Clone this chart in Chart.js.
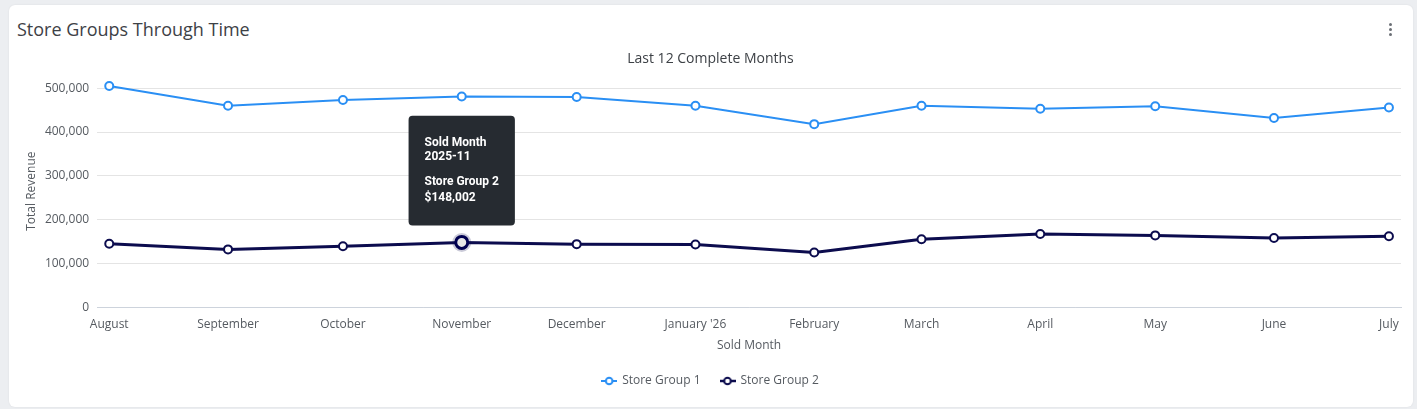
<!DOCTYPE html>
<html>
<head>
<meta charset="utf-8">
<script src="https://cdn.jsdelivr.net/npm/chart.js@4.4.1/dist/chart.umd.min.js"></script>
<style>
  html, body { margin: 0; padding: 0; }
  body {
    width: 1417px;
    height: 409px;
    background: #eceef1;
    font-family: "Open Sans", sans-serif;
    overflow: hidden;
  }
  .card {
    position: absolute;
    left: 9px;
    top: 5px;
    width: 1404px;
    height: 402px;
    background: #ffffff;
    border-radius: 6px;
    box-shadow: 0 0 2px rgba(0, 0, 0, 0.08);
  }
  .card-title {
    position: absolute;
    left: 8px;
    top: 12px;
    font-size: 18px;
    color: #3d4146;
  }
  .kebab {
    position: absolute;
    right: 21px;
    top: 18px;
    width: 3px;
  }
  .kebab span {
    display: block;
    width: 3px;
    height: 3px;
    margin-bottom: 2px;
    border-radius: 50%;
    background: #6b6f75;
  }
  .chart-box {
    position: absolute;
    left: 8px;
    top: 40px;
    width: 1392px;
    height: 352px;
  }
</style>
</head>
<body>
<div class="card">
  <div class="card-title">Store Groups Through Time</div>
  <div class="kebab"><span></span><span></span><span></span></div>
  <div class="chart-box"><canvas id="storeGroupsChart"></canvas></div>
</div>
<script>
const monthLabels = ["August", "September", "October", "November", "December", "January '26",
  "February", "March", "April", "May", "June", "July"];
const monthKeys = ["2025-08", "2025-09", "2025-10", "2025-11", "2025-12", "2026-01",
  "2026-02", "2026-03", "2026-04", "2026-05", "2026-06", "2026-07"];

const storeGroup1 = [505000, 460000, 473000, 481000, 480000, 460000, 418000, 460000, 453000, 459000, 432000, 456000];
const storeGroup2 = [145000, 132000, 139000, 148002, 144000, 143000, 125000, 155000, 167000, 164000, 158000, 162000];

const yTickValues = [0, 100000, 200000, 300000, 400000, 500000];

const group1Color = "#2a8ff4";
const group2Color = "#0c0c4e";

// x is a time axis: days since the first month, so short months sit closer together
const DAY_MS = 86400000;
const monthStart = (key) => {
  const [y, m] = key.split("-").map(Number);
  return Date.UTC(y, m - 1, 1);
};
const monthDays = monthKeys.map((k) => (monthStart(k) - monthStart(monthKeys[0])) / DAY_MS);
const lastDay = monthDays[monthDays.length - 1];
const edgeDays = 3.15;

// Legend marker: short line with an open circle on it.
const makeMarker = (color, width) => {
  const c = document.createElement("canvas");
  c.width = 16;
  c.height = 10;
  const ctx = c.getContext("2d");
  ctx.strokeStyle = color;
  ctx.lineWidth = width;
  ctx.beginPath();
  ctx.moveTo(0, 5);
  ctx.lineTo(16, 5);
  ctx.stroke();
  ctx.beginPath();
  ctx.arc(8, 5, 3.3, 0, Math.PI * 2);
  ctx.fillStyle = "#ffffff";
  ctx.fill();
  ctx.lineWidth = 2;
  ctx.stroke();
  return c;
};
const markers = [makeMarker(group1Color, 2), makeMarker(group2Color, 2.5)];

// soft ring behind the hovered point
const activeHalo = {
  id: "activeHalo",
  beforeDatasetsDraw(chart) {
    const ctx = chart.ctx;
    chart.getActiveElements().forEach((a) => {
      const el = chart.getDatasetMeta(a.datasetIndex).data[a.index];
      ctx.save();
      ctx.beginPath();
      ctx.arc(el.x, el.y, 9.5, 0, Math.PI * 2);
      ctx.fillStyle = "rgba(12, 12, 78, 0.22)";
      ctx.fill();
      ctx.restore();
    });
  },
};

Chart.defaults.font.family = "'Open Sans', sans-serif";
Chart.defaults.color = "#555a60";

const toPoints = (values) => values.map((v, i) => ({ x: monthDays[i], y: v }));

const chart = new Chart(document.getElementById("storeGroupsChart"), {
  type: "line",
  data: {
    datasets: [
      {
        label: "Store Group 1",
        data: toPoints(storeGroup1),
        borderColor: group1Color,
        backgroundColor: "#ffffff",
        borderWidth: 2,
        pointRadius: 4,
        pointBorderWidth: 2,
        pointBackgroundColor: "#ffffff",
        pointBorderColor: group1Color,
        pointHoverRadius: 6,
        pointHoverBorderWidth: 3,
        tension: 0,
      },
      {
        label: "Store Group 2",
        data: toPoints(storeGroup2),
        borderColor: group2Color,
        backgroundColor: "#ffffff",
        borderWidth: 3,
        pointRadius: 4,
        pointBorderWidth: 2,
        pointBackgroundColor: "#ffffff",
        pointBorderColor: group2Color,
        pointHoverRadius: 6,
        pointHoverBorderWidth: 3,
        tension: 0,
      },
    ],
  },
  options: {
    responsive: true,
    maintainAspectRatio: false,
    animation: false,
    layout: { padding: { left: 0, right: 5, top: 0, bottom: 0 } },
    plugins: {
      title: {
        display: true,
        text: "Last 12 Complete Months",
        color: "#3d4146",
        font: { size: 14, weight: "normal" },
        padding: { top: 6, bottom: 7.3 },
      },
      legend: {
        position: "bottom",
        labels: {
          usePointStyle: true,
          pointStyleWidth: 14,
          padding: 20,
          color: "#555a60",
          font: { size: 12 },
          generateLabels: (c) =>
            Chart.defaults.plugins.legend.labels.generateLabels(c).map((l, i) => ({
              ...l,
              pointStyle: markers[i],
            })),
        },
      },
      tooltip: {
        backgroundColor: "#262b31",
        cornerRadius: 4,
        displayColors: false,
        xAlign: "center",
        yAlign: "bottom",
        caretSize: 0,
        caretPadding: 17,
        padding: { left: 16, right: 16, top: 20, bottom: 20 },
        titleFont: { family: "Roboto", size: 12, weight: "bold", lineHeight: 1.2 },
        bodyFont: { family: "Roboto", size: 12, weight: "bold", lineHeight: 1.2 },
        titleSpacing: 0,
        titleMarginBottom: 10,
        callbacks: {
          title: (items) => ["Sold Month", monthKeys[items[0].dataIndex]],
          label: (item) => [item.dataset.label, "$" + item.parsed.y.toLocaleString("en-US")],
        },
      },
    },
    scales: {
      x: {
        type: "linear",
        min: -edgeDays,
        max: lastDay + edgeDays,
        afterBuildTicks: (scale) => {
          scale.ticks = monthDays.map((d) => ({ value: d }));
        },
        ticks: {
          autoSkip: false,
          maxRotation: 0,
          padding: 3,
          color: "#555a60",
          font: { size: 12 },
          callback: (value) => monthLabels[monthDays.indexOf(value)],
        },
        grid: {
          display: true,
          drawOnChartArea: false,
          drawTicks: true,
          tickLength: 7,
          color: "rgba(0, 0, 0, 0)",
          tickColor: "rgba(0, 0, 0, 0)",
        },
        border: { display: true, color: "#cdd3dc" },
        title: {
          display: true,
          text: "Sold Month",
          color: "#555a60",
          font: { size: 12 },
          padding: { top: 3.5, bottom: 2.5 },
        },
      },
      y: {
        min: 0,
        max: 530000,
        afterBuildTicks: (scale) => {
          scale.ticks = yTickValues.map((v) => ({ value: v }));
        },
        ticks: {
          padding: 3,
          color: "#555a60",
          font: { size: 12 },
          callback: (value) => value.toLocaleString("en-US"),
        },
        grid: {
          color: "#e4e4e4",
          drawTicks: true,
          tickLength: 5,
          tickColor: "rgba(0, 0, 0, 0)",
        },
        border: { display: false },
        title: {
          display: true,
          text: "Total Revenue",
          color: "#555a60",
          font: { size: 12 },
          padding: { top: 7.5, bottom: 3 },
        },
      },
    },
  },
  plugins: [activeHalo],
});

// show the hover state on November, Store Group 2
const hovered = [{ datasetIndex: 1, index: 3 }];
const el = chart.getDatasetMeta(1).data[3];
chart.setActiveElements(hovered);
chart.tooltip.setActiveElements(hovered, { x: el.x, y: el.y });
chart.update();
</script>
</body>
</html>
